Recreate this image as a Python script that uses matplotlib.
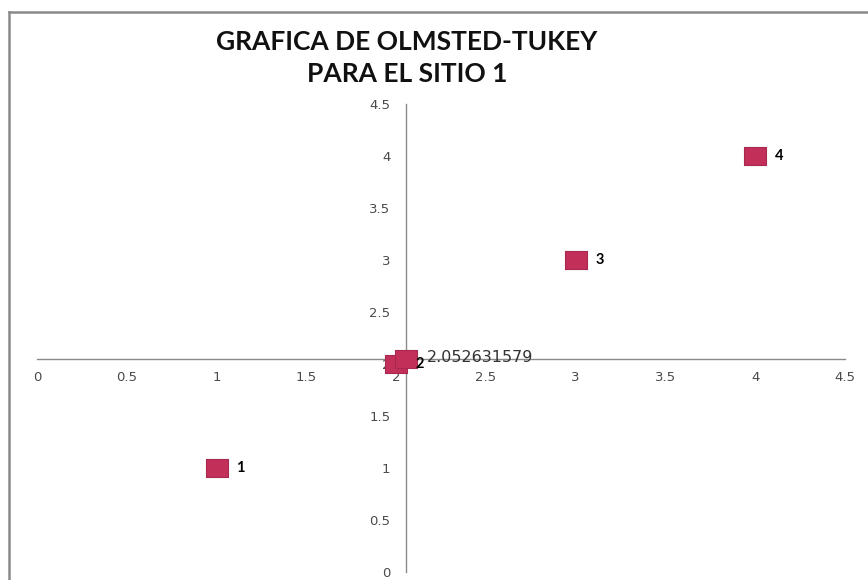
import matplotlib
matplotlib.use('Agg')
import matplotlib.pyplot as plt
from matplotlib.lines import Line2D
from matplotlib.ticker import FuncFormatter

# Puntos de la grafica de Olmsted-Tukey (sitio 1)
x_vals = [1, 2, 2.052631579, 3, 4]
y_vals = [1, 2, 2.052631579, 3, 4]
point_labels = ['1', '2', '2.052631579', '3', '4']
# Punto donde se cruzan los ejes (media)
cross = 2.052631579

TITLE = 'GRAFICA DE OLMSTED-TUKEY\nPARA EL SITIO 1'
MARKER_COLOR = '#c2305a'
EDGE_COLOR = '#a8284e'


def plot_points(ax):
    """Dibuja los puntos con sus etiquetas."""
    box = [(-1.3, -1), (1.3, -1), (1.3, 1), (-1.3, 1), (-1.3, -1)]
    ax.plot(x_vals, y_vals, linestyle='none', marker=box, markersize=16,
            markerfacecolor=MARKER_COLOR, markeredgecolor=EDGE_COLOR,
            markeredgewidth=0.8, zorder=3)
    for x, y, lab in zip(x_vals, y_vals, point_labels):
        if lab == '2.052631579':
            ax.annotate(lab, (x, y), xytext=(15, 1), textcoords='offset points',
                        ha='left', va='center', fontsize=11.5, color='#333333',
                        family='DejaVu Sans', zorder=4)
        else:
            ax.annotate(lab, (x, y), xytext=(14, 0), textcoords='offset points',
                        ha='left', va='center', fontsize=10.5, color='black',
                        family='Lato', fontweight='bold', zorder=4)


def configure_axes(ax):
    """Ejes cruzados en la media, sin marcas de division."""
    ax.set_xlim(0, 4.5)
    ax.set_ylim(0, 4.5)
    ax.set_xticks([i * 0.5 for i in range(10)])
    ax.set_yticks([i * 0.5 for i in range(10)])
    fmt = FuncFormatter(lambda v, p: '%g' % v)
    ax.xaxis.set_major_formatter(fmt)
    ax.yaxis.set_major_formatter(fmt)
    ax.spines['top'].set_visible(False)
    ax.spines['right'].set_visible(False)
    ax.spines['left'].set_position(('data', cross))
    ax.spines['bottom'].set_position(('data', cross))
    for s in ('left', 'bottom'):
        ax.spines[s].set_color('#8a8a8a')
        ax.spines[s].set_linewidth(1)
    for lbl in ax.get_xticklabels() + ax.get_yticklabels():
        lbl.set_family('DejaVu Sans')
    ax.tick_params(axis='x', length=0, pad=9, labelsize=9.5,
                   labelcolor='#4a4a4a')
    ax.tick_params(axis='y', length=0, pad=11, labelsize=9.5,
                   labelcolor='#4a4a4a')
    ax.patch.set_alpha(0)


def start():
    fig = plt.figure(figsize=(8.68, 5.80), dpi=100)
    ax = fig.add_axes([37 / 868, 8 / 580, 808 / 868, 468 / 580])
    plot_points(ax)
    configure_axes(ax)

    fig.text(407 / 868, 1 - 58 / 580, TITLE, ha='center', va='center',
             fontsize=19, fontweight='bold', family='Lato',
             linespacing=1.4, color='#111111')

    # Borde del area del grafico
    fig.add_artist(Line2D([9 / 868, 9 / 868], [0, 1 - 12 / 580],
                          transform=fig.transFigure, color='#8a8a8a', lw=1.8))
    fig.add_artist(Line2D([9 / 868, 1], [1 - 12 / 580, 1 - 12 / 580],
                          transform=fig.transFigure, color='#8a8a8a', lw=1.8))

    fig.savefig('out.png', dpi=100)


if __name__ == '__main__':
    start()
